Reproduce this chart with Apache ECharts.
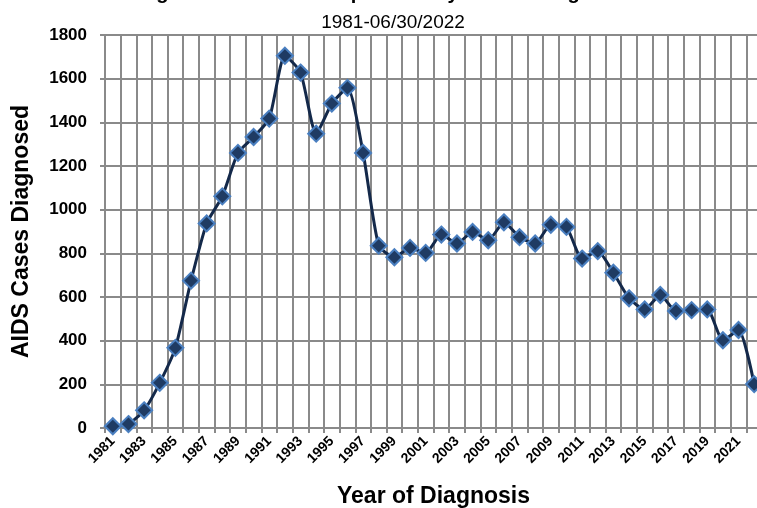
<!DOCTYPE html>
<html>
<head>
<meta charset="utf-8">
<script src="https://cdn.jsdelivr.net/npm/echarts@6/dist/echarts.min.js"></script>
<style>html,body{margin:0;padding:0;background:#fff;}#c{width:757px;height:508px;}</style>
</head>
<body>
<div id="c"></div>
<script>
var titleText = "Diagnosed AIDS Cases per Year by Year of Diagnosis";
var subtitleText = "1981-06/30/2022";
var xAxisName = "Year of Diagnosis";
var yAxisName = "AIDS Cases Diagnosed";
var years = ["1981","1982","1983","1984","1985","1986","1987","1988","1989","1990","1991","1992","1993","1994","1995","1996","1997","1998","1999","2000","2001","2002","2003","2004","2005","2006","2007","2008","2009","2010","2011","2012","2013","2014","2015","2016","2017","2018","2019","2020","2021","2022"];
var cases = [8,18,81,207,367,675,937,1061,1260,1333,1417,1705,1628,1348,1486,1558,1260,835,782,825,802,886,845,898,860,942,874,845,931,921,776,810,711,594,543,609,536,540,543,402,449,201];
var yTicks = {min:0, max:1800, interval:200};

var chart = echarts.init(document.getElementById('c'));
chart.setOption({
  animation:false,
  backgroundColor:'#ffffff',
  title:[{
    text:titleText, left:'center', top:-22,
    textStyle:{fontFamily:'Liberation Sans', fontWeight:'bold', fontSize:20, color:'#000'}
  },{
    text:subtitleText, left:388, textAlign:'center', top:8,
    textStyle:{fontFamily:'Liberation Sans', fontWeight:'normal', fontSize:19, color:'#000'}
  }],
  grid:{left:105, right:-5, top:35, bottom:80, containLabel:false, outerBoundsMode:'none'},
  xAxis:{
    type:'category', data:years, boundaryGap:true,
    name:xAxisName, nameLocation:'middle', nameGap:57,
    nameTextStyle:{fontFamily:'Liberation Sans', fontWeight:'bold', fontSize:23, color:'#000'},
    axisLine:{show:true, lineStyle:{color:'#8a8a8a', width:2}},
    axisTick:{show:true, interval:0, length:5, lineStyle:{color:'#8a8a8a', width:2}},
    axisLabel:{interval:1, rotate:45, margin:11, fontFamily:'Liberation Sans', fontWeight:'bold', fontSize:14, color:'#000'},
    splitLine:{show:true, interval:0, lineStyle:{color:'#8a8a8a', width:2}}
  },
  yAxis:{
    type:'value', min:yTicks.min, max:yTicks.max, interval:yTicks.interval,
    name:yAxisName, nameLocation:'middle', nameGap:72, nameRotate:90,
    nameTextStyle:{fontFamily:'Liberation Sans', fontWeight:'bold', fontSize:23, color:'#000'},
    axisLine:{show:true, lineStyle:{color:'#8a8a8a', width:2}},
    axisTick:{show:true, length:5, lineStyle:{color:'#8a8a8a', width:2}},
    axisLabel:{margin:18, formatter:function(v){return String(v);}, fontFamily:'Liberation Sans', fontWeight:'bold', fontSize:17, color:'#000'},
    splitLine:{show:true, lineStyle:{color:'#8a8a8a', width:2}}
  },
  series:[{
    type:'line', data:cases, smooth:0.2,
    showAllSymbol:true,
    lineStyle:{color:'#14294a', width:3},
    symbol:'diamond', symbolSize:16,
    itemStyle:{color:'#1f3b63', borderColor:'#4a7fc0', borderWidth:2},
    clip:false
  }]
});
</script>
</body>
</html>
